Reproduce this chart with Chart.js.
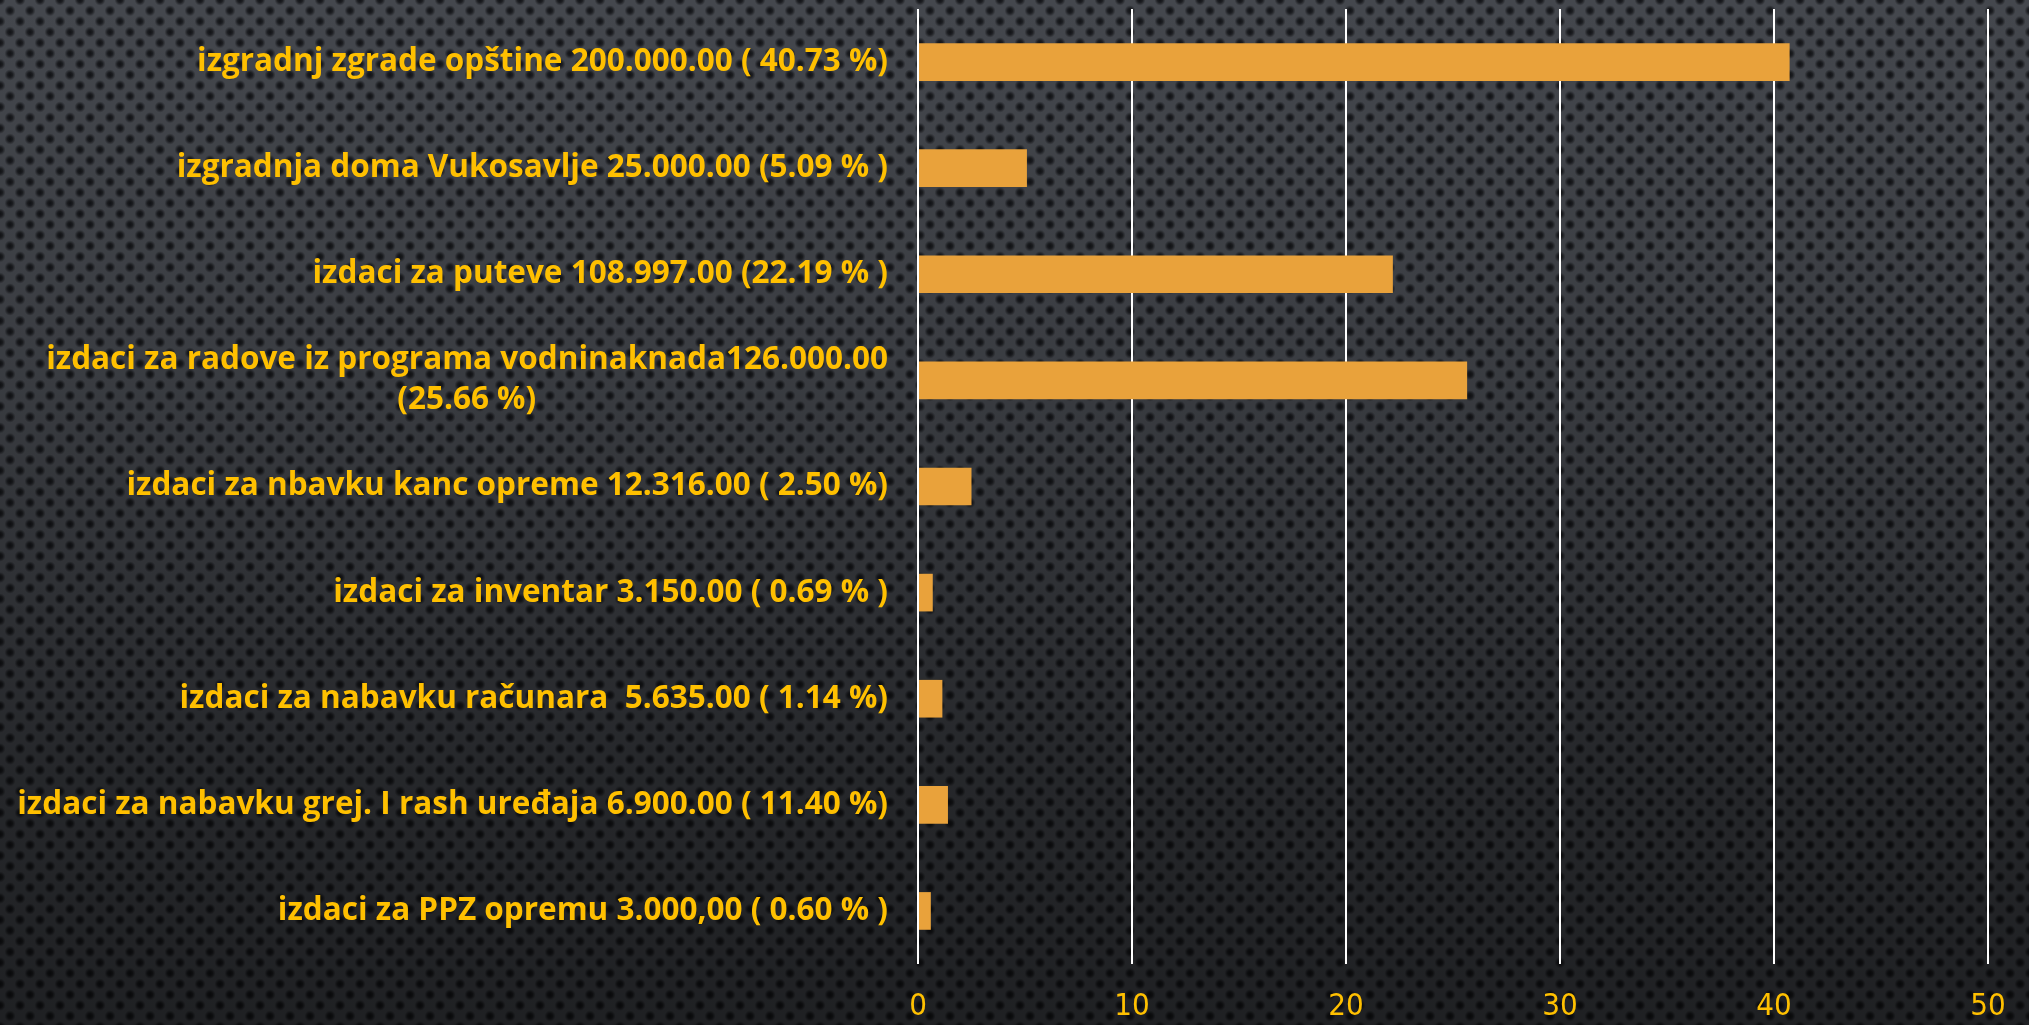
<!DOCTYPE html>
<html>
<head>
<meta charset="utf-8">
<script src="https://cdn.jsdelivr.net/npm/chart.js@4.4.1/dist/chart.umd.min.js"></script>
<style>
  html, body { margin: 0; padding: 0; }
  body {
    width: 2029px; height: 1025px; overflow: hidden;
    background-color: #44474d;
    background-image:
      linear-gradient(to bottom, rgba(0,0,0,0) 0%, rgba(0,0,0,0.15) 35%, rgba(0,0,0,0.45) 75%, rgba(0,0,0,0.55) 100%),
      radial-gradient(circle at center, rgba(14,15,18,0.95) 0px, rgba(14,15,18,0.75) 2.5px, rgba(14,15,18,0) 5.5px),
      radial-gradient(circle at center, rgba(14,15,18,0.95) 0px, rgba(14,15,18,0.75) 2.5px, rgba(14,15,18,0) 5.5px);
    background-size: 100% 100%, 20px 21.4px, 20px 21.4px;
    background-position: 0 0, 0 0, 10px 10.7px;
  }
  #wrap { position: absolute; left: 0; top: 0; width: 2029px; height: 1025px; }
</style>
</head>
<body>
<div id="wrap"><canvas id="c" width="2029" height="1025"></canvas></div>
<script>
const categories = [
  "izgradnj zgrade opštine 200.000.00 ( 40.73 %)",
  "izgradnja doma Vukosavlje 25.000.00 (5.09 % )",
  "izdaci za puteve 108.997.00 (22.19 % )",
  ["izdaci za radove iz programa vodninaknada126.000.00", "(25.66 %)"],
  "izdaci za nbavku kanc opreme 12.316.00 ( 2.50 %)",
  "izdaci za inventar 3.150.00 ( 0.69 % )",
  "izdaci za nabavku računara  5.635.00 ( 1.14 %)",
  "izdaci za nabavku grej. I rash uređaja 6.900.00 ( 11.40 %)",
  "izdaci za PPZ opremu 3.000,00 ( 0.60 % )"
];
const values = [40.73, 5.09, 22.19, 25.66, 2.50, 0.69, 1.14, 1.40, 0.60];
const xTicks = [0, 10, 20, 30, 40, 50];

const labelFont = { family: "'Open Sans', sans-serif", size: 31.5, weight: "bold", lineHeight: 1.27 };
const tickFont = { family: "'Liberation Sans Narrow', 'DejaVu Sans Condensed', Roboto, sans-serif", size: 31, weight: "normal", lineHeight: 1.2 };

// center the second line of multi-line labels under the first line (labels are right-aligned)
const mctx = document.createElement('canvas').getContext('2d');
mctx.font = `bold ${labelFont.size}px ${labelFont.family}`;
const spaceW = mctx.measureText('\u00a0').width || 7;
const yLabels = categories.map(l => {
  if (!Array.isArray(l)) return l;
  const w0 = mctx.measureText(l[0]).width;
  return l.map((s, i) => {
    if (i === 0) return s;
    const pad = Math.max(0, Math.round(((w0 - mctx.measureText(s).width) / 2) / spaceW));
    return s + '\u00a0'.repeat(pad);
  });
});

new Chart(document.getElementById('c'), {
  type: 'bar',
  data: {
    labels: yLabels,
    datasets: [{
      data: values,
      backgroundColor: '#E9A23B',
      borderWidth: 0,
      categoryPercentage: 1,
      barPercentage: 0.355
    }]
  },
  options: {
    indexAxis: 'y',
    responsive: false,
    animation: false,
    layout: { padding: { left: 0, right: 41, top: 9, bottom: 0 } },
    plugins: { legend: { display: false }, tooltip: { enabled: false } },
    scales: {
      x: {
        min: 0, max: 50,
        afterBuildTicks: s => { s.ticks = xTicks.map(v => ({ value: v })); },
        afterFit: s => { s.height = 61; s.paddingLeft = 0; s.paddingRight = 0; },
        grid: { color: '#ffffff', lineWidth: 2, drawTicks: false },
        border: { display: false },
        ticks: { color: '#FFC000', font: tickFont, padding: 24 }
      },
      y: {
        grid: { display: false, drawTicks: false },
        border: { display: false },
        afterFit: s => { s.width = 918; s.paddingTop = 0; s.paddingBottom = 0; },
        ticks: { color: '#FFC000', font: labelFont, padding: 30, crossAlign: 'near', autoSkip: false }
      }
    }
  }
});
</script>
</body>
</html>
